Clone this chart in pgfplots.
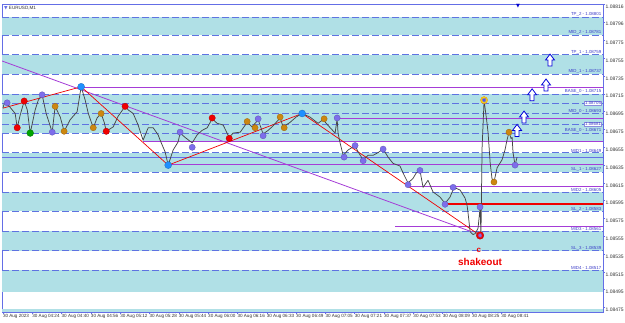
\documentclass[border=0pt]{standalone}
\usepackage{pgfplots}
\pgfplotsset{compat=1.18}
\usepackage{fontspec}
\setmainfont{Liberation Sans}
\newfontfamily\dejavu{DejaVu Sans}
\usetikzlibrary{plotmarks}
\definecolor{bandc}{RGB}{176,224,230}
\definecolor{dashc}{RGB}{95,115,225}
\definecolor{axisc}{RGB}{100,110,230}
\definecolor{purpc}{RGB}{165,60,215}
\definecolor{pricec}{RGB}{70,70,70}
\definecolor{violc}{RGB}{125,110,235}
\definecolor{orangec}{RGB}{205,135,15}
\definecolor{bluec}{RGB}{30,144,255}
\definecolor{greenc}{RGB}{0,165,0}
\definecolor{redc}{RGB}{240,0,0}
\definecolor{lblc}{RGB}{60,60,200}
\definecolor{curc}{RGB}{40,40,220}
\makeatletter
\def\mtfour#1#2#3#4#5\mtend{\def\pgfmathresult{#1#2#3#4}}
\def\mtraw 1.0#1\relax{\mtfour#10000\mtend}
\def\mtfloat#1Y#2e#3\relax{\mtraw#2\relax}
\def\mtdotrafo#1{\edef\mttmp{#1}\expandafter\in@\expandafter Y\expandafter{\mttmp}%
  \ifin@\expandafter\mtfloat\mttmp\relax\else\expandafter\mtraw\mttmp\relax\fi}
\makeatother
\pgfplotsset{mt trafo/.style={y coord trafo/.code={\mtdotrafo{##1}}}}
\tikzset{lbl/.style={font=\fontsize{4.4}{5}\selectfont, text=lblc, inner sep=0.3bp, anchor=south east}}
\pgfdeclareplotmark{mtup}{%
  \pgfpathmoveto{\pgfpoint{-2bp}{-6bp}}%
  \pgfpathlineto{\pgfpoint{2bp}{-6bp}}%
  \pgfpathlineto{\pgfpoint{2bp}{0bp}}%
  \pgfpathlineto{\pgfpoint{4.5bp}{0bp}}%
  \pgfpathlineto{\pgfpoint{0bp}{6bp}}%
  \pgfpathlineto{\pgfpoint{-4.5bp}{0bp}}%
  \pgfpathlineto{\pgfpoint{-2bp}{0bp}}%
  \pgfpathclose
  \pgfusepathqfillstroke}
\begin{document}
\begin{tikzpicture}
\fill[white] (0,0) rectangle (625bp,323bp);
\begin{axis}[
  at={(2bp,11bp)}, anchor=south west,
  scale only axis, width=601bp, height=308bp,
  mt trafo,
  xmin=-0.5, xmax=327.5, ymin=1.08470, ymax=1.08816,
  enlargelimits=false,
  axis line style={draw=axisc, line width=0.7pt},
  xtick={0,16,...,272},
  xticklabels={30 Aug 2023,30 Aug 04:24,30 Aug 04:40,30 Aug 04:56,30 Aug 05:12,30 Aug 05:28,30 Aug 05:44,30 Aug 06:00,30 Aug 06:16,30 Aug 06:33,30 Aug 06:49,30 Aug 07:05,30 Aug 07:21,30 Aug 07:37,30 Aug 07:53,30 Aug 08:09,30 Aug 08:25,30 Aug 08:41},
  ytick={1.08816,1.08796,1.08775,1.08755,1.08735,1.08715,1.08695,1.08675,1.08655,1.08635,1.08615,1.08595,1.08575,1.08555,1.08535,1.08515,1.08495,1.08475},
  yticklabels={1.08816,1.08796,1.08775,1.08755,1.08735,1.08715,1.08695,1.08675,1.08655,1.08635,1.08615,1.08595,1.08575,1.08555,1.08535,1.08515,1.08495,1.08475},
  xtick pos=bottom, ytick pos=right, yticklabel pos=right,
  tick align=outside, major tick length=2bp,
  tick style={draw=axisc, line width=0.5pt},
  xticklabel style={anchor=north west, font=\fontsize{4.6}{5}\selectfont, text=black!80, inner sep=0.4bp, xshift=-0.5bp},
  yticklabel style={anchor=north west, font=\fontsize{5}{6}\selectfont, text=black!80, inner sep=0.4bp},
]
% bands
\addplot[fill=bandc, draw=none] coordinates {(-0.5,1.08781) (327.5,1.08781) (327.5,1.08801) (-0.5,1.08801)} -- cycle;
\addplot[fill=bandc, draw=none] coordinates {(-0.5,1.08737) (327.5,1.08737) (327.5,1.08759) (-0.5,1.08759)} -- cycle;
\addplot[fill=bandc, draw=none] coordinates {(-0.5,1.08671) (327.5,1.08671) (327.5,1.08715) (-0.5,1.08715)} -- cycle;
\addplot[fill=bandc, draw=none] coordinates {(76.5,1.08662) (327.5,1.08662) (327.5,1.08671) (76.5,1.08671)} -- cycle;
\addplot[fill=bandc, draw=none] coordinates {(-0.5,1.08627) (327.5,1.08627) (327.5,1.08649) (-0.5,1.08649)} -- cycle;
\addplot[fill=bandc, draw=none] coordinates {(-0.5,1.08583) (327.5,1.08583) (327.5,1.08605) (-0.5,1.08605)} -- cycle;
\addplot[fill=bandc, draw=none] coordinates {(-0.5,1.08539) (327.5,1.08539) (327.5,1.08561) (-0.5,1.08561)} -- cycle;
\addplot[fill=bandc, draw=none] coordinates {(-0.5,1.08492) (327.5,1.08492) (327.5,1.08517) (-0.5,1.08517)} -- cycle;
\addplot[fill=bandc, draw=none] coordinates {(-0.5,1.08470) (327.5,1.08470) (327.5,1.08473) (-0.5,1.08473)} -- cycle;
% dashed levels
\pgfplotsinvokeforeach{1.08801,1.08781,1.08759,1.08737,1.08715,1.08705,1.08693,1.08681,1.08671,1.08649,1.08627,1.08605,1.08583,1.08561,1.08539,1.08517}{
  \addplot[dashc, line width=0.6pt, dash pattern=on 7bp off 3bp] coordinates {(-0.5,#1) (327.5,#1)};
}
% current price line
\addplot[axisc, line width=0.6pt] coordinates {(-0.5,1.08644) (327.5,1.08644)};
% purple horizontal lines
\addplot[purpc, line width=0.8pt] coordinates {(42.7,1.08722) (327.5,1.08722)};
\addplot[purpc, line width=0.8pt] coordinates {(182.4,1.08687) (327.5,1.08687)};
\addplot[purpc, line width=0.8pt] coordinates {(76.5,1.08662) (327.5,1.08662)};
\addplot[purpc, line width=0.8pt] coordinates {(91.3,1.08636) (327.5,1.08636)};
\addplot[purpc, line width=0.8pt] coordinates {(221.1,1.08611) (327.5,1.08611)};
\addplot[purpc, line width=0.8pt] coordinates {(214.0,1.08566) (327.5,1.08566)};
% purple diagonal
\addplot[purpc, line width=0.8pt] coordinates {(-0.5,1.08752) (256.0,1.08560)};
% red thick horizontal
\addplot[redc, line width=2.2pt] coordinates {(241.3,1.08591) (327.5,1.08591)};
% red zigzag
\addplot[redc, line width=0.7pt] coordinates {(0,1.08699) (42.7,1.08723) (90.2,1.08635) (163.3,1.08693) (260.4,1.08556)};
% price path
\addplot[pricec, line width=0.75pt, line join=round] coordinates {
(0,1.08699) (0.7,1.08704) (2.3,1.08704) (5.1,1.08697) (6.7,1.08693) (7.8,1.08677) (9.4,1.08691) (11.6,1.08707)
(13.3,1.08697) (14.9,1.08671) (17.6,1.08697) (19.3,1.08708) (21.4,1.08714) (23.6,1.08693) (26.9,1.08672)
(28.5,1.08701) (31.3,1.08689) (33.4,1.08673) (36.7,1.08686) (40.5,1.08695) (42.7,1.08723) (44.9,1.08708)
(46.6,1.08693) (49.3,1.08677) (51.4,1.08688) (53.6,1.08693) (55.3,1.08683) (56.4,1.08673) (60.2,1.08678)
(62.9,1.08690) (66.7,1.08701) (68.4,1.08697) (71.1,1.08693) (73.8,1.08680) (76.5,1.08663) (79.3,1.08677)
(82.0,1.08677) (84.7,1.08669) (85.8,1.08663) (88.5,1.08650) (90.2,1.08635) (92.9,1.08652) (95.6,1.08661)
(96.7,1.08671) (99.5,1.08666) (103.3,1.08660) (106.0,1.08669) (108.7,1.08674) (111.5,1.08677) (114.2,1.08687)
(116.9,1.08682) (120.2,1.08680) (123.5,1.08666) (125.6,1.08671) (129.5,1.08672) (133.3,1.08683) (136.0,1.08678)
(139.3,1.08686) (142.0,1.08670) (144.7,1.08674) (146.9,1.08678) (151.3,1.08688) (152.9,1.08678) (156.7,1.08683)
(160.0,1.08689) (163.3,1.08693) (167.6,1.08689) (172.0,1.08682) (174.7,1.08686) (178.6,1.08677) (181.3,1.08671)
(182.4,1.08687) (182.9,1.08671) (184.0,1.08660) (185.7,1.08646) (188.4,1.08652) (192.2,1.08657) (193.8,1.08650)
(196.6,1.08641) (199.3,1.08646) (202.0,1.08646) (204.7,1.08649) (207.5,1.08653) (210.2,1.08644) (212.9,1.08637)
(216.7,1.08634) (218.9,1.08624) (221.1,1.08615) (223.8,1.08620) (225.5,1.08626) (227.6,1.08629) (229.3,1.08610)
(232.0,1.08618) (234.7,1.08605) (238.6,1.08599) (241.3,1.08592) (244.0,1.08599) (246.2,1.08610) (249.5,1.08607)
(252.2,1.08598) (253.3,1.08590) (253.8,1.08582) (255.0,1.08560) (256.6,1.08557) (257.7,1.08558) (259.3,1.08564)
(260.4,1.08587) (260.9,1.08557) (261.5,1.08654) (262.6,1.08708) (264.2,1.08682) (264.8,1.08671) (265.9,1.08638)
(266.9,1.08620) (268.0,1.08616) (269.7,1.08632) (272.4,1.08641) (274.0,1.08652) (275.1,1.08663) (276.2,1.08672)
(277.3,1.08665) (277.9,1.08666) (278.4,1.08649) (279.5,1.08635) (280.6,1.08644)
};
% markers
\addplot[only marks, mark=*, mark size=3.1bp, mark options={fill=violc, draw=violc!75!black, line width=0.3pt}] coordinates {
(2.3,1.08705) (21.4,1.08714) (26.9,1.08672) (96.7,1.08672) (103.3,1.08655) (139.3,1.08687) (142.0,1.08668)
(182.4,1.08688) (186.2,1.08644) (192.2,1.08657) (196.6,1.08640) (207.5,1.08653) (221.1,1.08613) (227.6,1.08629)
(241.3,1.08591) (245.7,1.08610) (260.4,1.08588) (279.5,1.08635)};
\addplot[only marks, mark=*, mark size=3.2bp, mark options={fill=redc, draw=redc!75!black, line width=0.3pt}] coordinates {
(7.8,1.08677) (11.6,1.08707) (56.4,1.08673) (66.7,1.08701) (114.2,1.08688) (123.5,1.08665)};
\addplot[only marks, mark=*, mark size=3.4bp, mark options={fill=greenc, draw=greenc!70!black, line width=0.3pt}] coordinates {(14.9,1.08671)};
\addplot[only marks, mark=*, mark size=3.1bp, mark options={fill=orangec, draw=orangec!75!black, line width=0.3pt}] coordinates {
(28.5,1.08701) (33.4,1.08673) (49.3,1.08677) (53.6,1.08693) (133.3,1.08684) (137.6,1.08677) (151.3,1.08689)
(153.5,1.08677) (175.3,1.08687) (268.0,1.08616) (276.2,1.08672)};
\addplot[only marks, mark=*, mark size=3.5bp, mark options={fill=bluec, draw=bluec!75!black, line width=0.3pt}] coordinates {
(42.7,1.08723) (90.2,1.08635) (163.3,1.08693)};
\addplot[only marks, mark=*, mark size=3.6bp, mark options={fill=yellow!85!orange, draw=orange, line width=0.3pt}] coordinates {(262.6,1.08708)};
\addplot[only marks, mark=10-pointed star, mark size=2.4bp, mark options={fill=blue!70, draw=blue!70}] coordinates {(262.6,1.08708)};
\addplot[only marks, mark=*, mark size=3.8bp, mark options={fill=redc, draw=redc!75!black, line width=0.3pt}] coordinates {(260.4,1.08556)};
\addplot[only marks, mark=10-pointed star, mark size=2.2bp, mark options={fill=violc, draw=violc}] coordinates {(260.4,1.08556)};
% arrows
\addplot[only marks, mark=mtup, mark options={fill=white, draw=blue!85!black, line width=0.8pt}] coordinates {
(280.6,1.08674) (284.4,1.08689) (288.8,1.08714) (296.4,1.08725) (298.6,1.08753)};
% level labels
\node[lbl] at (axis cs:326.8,1.08801) {TP\_2 - 1.08801};
\node[lbl] at (axis cs:326.8,1.08781) {MID\_2 - 1.08781};
\node[lbl] at (axis cs:326.8,1.08759) {TP\_1 - 1.08759};
\node[lbl] at (axis cs:326.8,1.08737) {MID\_1 - 1.08737};
\node[lbl] at (axis cs:326.8,1.08715) {BASE\_0 - 1.08715};
\node[lbl, anchor=east, fill=white, draw=lblc!60, line width=0.3pt, inner sep=0.6bp] at (axis cs:326.8,1.08705) {1.08705};
\node[lbl] at (axis cs:326.8,1.08693) {MID\_0 - 1.08693};
\node[lbl, anchor=east, fill=white, draw=lblc!60, line width=0.3pt, inner sep=0.6bp] at (axis cs:326.8,1.08681) {1.08681};
\node[lbl] at (axis cs:326.8,1.08671) {BASE\_0 - 1.08671};
\node[lbl] at (axis cs:326.8,1.08649) {MID1 - 1.08649};
\node[lbl] at (axis cs:326.8,1.08627) {SL\_1 - 1.08627};
\node[lbl] at (axis cs:326.8,1.08605) {MID2 - 1.08605};
\node[lbl] at (axis cs:326.8,1.08583) {SL\_2 - 1.08583};
\node[lbl] at (axis cs:326.8,1.08561) {MID3 - 1.08561};
\node[lbl] at (axis cs:326.8,1.08539) {SL\_3 - 1.08539};
\node[lbl] at (axis cs:326.8,1.08517) {MID4 - 1.08517};
% texts
\node[text=redc, font=\fontsize{8}{9}\selectfont\bfseries] at (axis cs:259.8,1.08539) {c};
\node[text=redc, font=\fontsize{10}{12}\selectfont\bfseries] at (axis cs:260.4,1.08526) {shakeout};
\node[anchor=north west, font=\fontsize{4.6}{5}\selectfont, text=black!80, inner sep=0.5bp] at (axis cs:0.3,1.08814) {{\dejavu\textcolor{axisc}{▼}} EURUSD,M1};
\node[anchor=north, font=\fontsize{5}{6}\selectfont\dejavu, text=blue!80!black, inner sep=0pt] at (axis cs:281.1,1.08816) {▼};
\node[anchor=west, fill=curc, text=white, font=\fontsize{4.6}{5}\selectfont, inner sep=0.6bp] at (axis cs:327.5,1.08644) {1.08642};
\end{axis}
\pgfresetboundingbox
\path (0,0) rectangle (625bp,323bp);
\end{tikzpicture}
\end{document}
